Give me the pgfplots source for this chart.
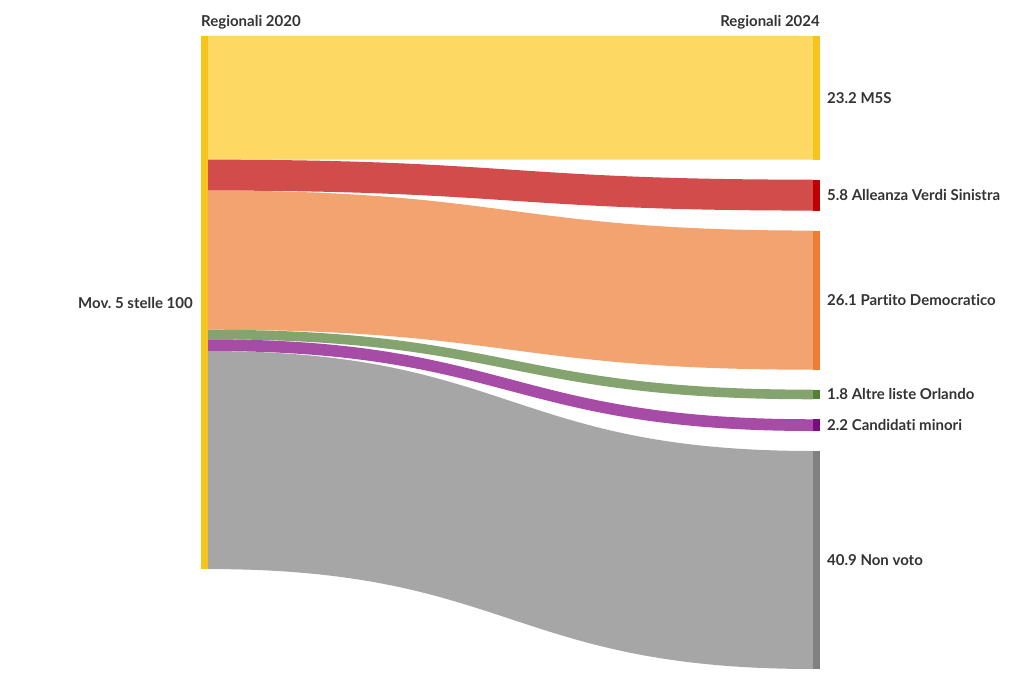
\documentclass[border=0pt]{standalone}
\usepackage{pgfplots}
\pgfplotsset{compat=1.18}
\usepackage{fontspec}
\setmainfont{Lato}[Ligatures=NoCommon]
\frenchspacing
\definecolor{txt}{HTML}{333333}
\definecolor{nodeY}{HTML}{F7C41C}
\definecolor{fM}{HTML}{FDD963}
\definecolor{fA}{HTML}{D24C4C}
\definecolor{nA}{HTML}{C00000}
\definecolor{fP}{HTML}{F2A36F}
\definecolor{nP}{HTML}{ED7D31}
\definecolor{fO}{HTML}{84A36E}
\definecolor{nO}{HTML}{548235}
\definecolor{fC}{HTML}{A64CA6}
\definecolor{nC}{HTML}{7B0C80}
\definecolor{fN}{HTML}{A6A6A6}
\definecolor{nN}{HTML}{808080}
\newcommand{\lbl}{\bfseries\fontsize{15}{17}\selectfont}
% #1 left top, #2 left bottom, #3 right top, #4 right bottom, #5 colour
\newcommand{\flow}[5]{%
  \fill[#5] (axis cs:0.0113,#1) .. controls (axis cs:0.5,#1) and (axis cs:0.5,#3) .. (axis cs:0.9887,#3)
    -- (axis cs:0.9887,#4) .. controls (axis cs:0.5,#4) and (axis cs:0.5,#2) .. (axis cs:0.0113,#2) -- cycle;}
\newcommand{\rnode}[4]{% top, bottom, colour, label
  \fill[#3] (axis cs:0.9887,#1) rectangle (axis cs:1,#2);
  \node[anchor=west,xshift=6pt,inner sep=1pt,text=txt,font=\lbl] at (axis cs:1,{(#1+#2)/2}) {#4};}
\begin{document}
\begin{tikzpicture}
\useasboundingbox (0,0) rectangle (1020pt,687pt);
\begin{axis}[at={(201pt,18pt)}, anchor=south west, width=619pt, height=633pt, scale only axis,
  axis lines=none, ticks=none, clip=false, xmin=0, xmax=1, ymin=0, ymax=118.75, y dir=reverse]
% flows: value 23.2, 5.8, 26.1, 1.8, 2.2, 40.9 (total 100), gap 3.75 on the right
\flow{0}{23.2}{0}{23.2}{fM}
\flow{23.2}{29.0}{26.95}{32.75}{fA}
\flow{29.0}{55.1}{36.5}{62.6}{fP}
\flow{55.1}{56.9}{66.35}{68.15}{fO}
\flow{56.9}{59.1}{71.9}{74.1}{fC}
\flow{59.1}{100}{77.85}{118.75}{fN}
\fill[nodeY] (axis cs:0,0) rectangle (axis cs:0.0113,100);
\rnode{0}{23.2}{nodeY}{23.2 M5S}
\rnode{26.95}{32.75}{nA}{5.8 Alleanza Verdi Sinistra}
\rnode{36.5}{62.6}{nP}{26.1 Partito Democratico}
\rnode{66.35}{68.15}{nO}{1.8 Altre liste Orlando}
\rnode{71.9}{74.1}{nC}{2.2 Candidati minori}
\rnode{77.85}{118.75}{nN}{40.9 Non voto}
\node[anchor=east,xshift=-7pt,inner sep=1pt,text=txt,font=\lbl] at (axis cs:0,50) {Mov. 5 stelle 100};
\node[anchor=base west,yshift=9pt,inner sep=0pt,text=txt,font=\lbl] at (axis cs:0,0) {Regionali 2020};
\node[anchor=base east,yshift=9pt,inner sep=0pt,text=txt,font=\lbl] at (axis cs:1,0) {Regionali 2024};
\end{axis}
\end{tikzpicture}
\end{document}
